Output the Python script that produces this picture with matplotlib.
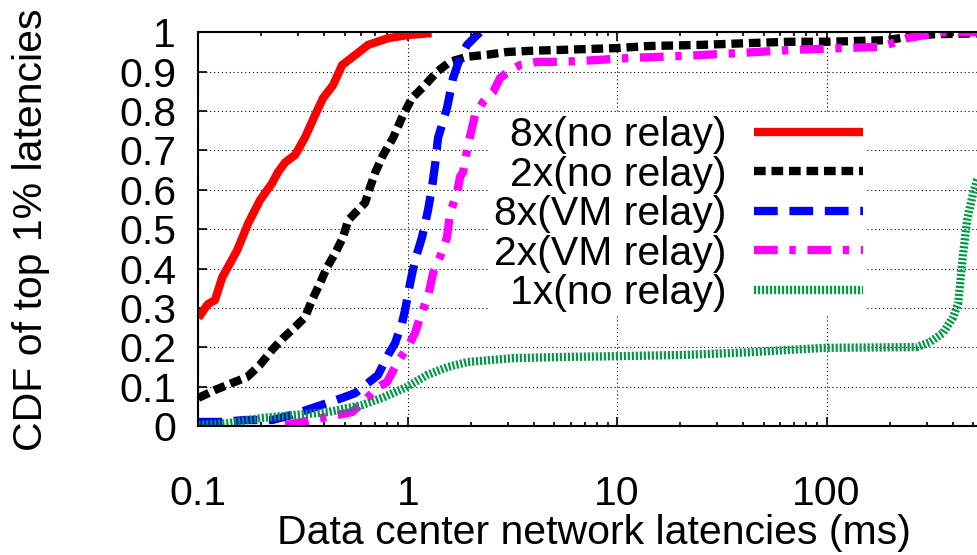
import matplotlib
matplotlib.use('Agg')
import matplotlib.pyplot as plt

plt.rcParams['font.family'] = ['Liberation Sans', 'DejaVu Sans']

labels = ['8x(no relay)', '2x(no relay)', '8x(VM relay)', '2x(VM relay)', '1x(no relay)']
colors = ['#ff0000', '#000000', '#0000ff', '#ff00ff', '#009944']

# latency (ms) / CDF
red_x = [0.1, 0.111, 0.12, 0.13, 0.153, 0.173, 0.197, 0.225, 0.24, 0.26, 0.29, 0.323,
         0.361, 0.394, 0.44, 0.486, 0.56, 0.646, 0.805, 1.0, 1.3]
red_y = [0.275, 0.31, 0.32, 0.378, 0.446, 0.515, 0.574, 0.617, 0.645, 0.67, 0.689, 0.733,
         0.79, 0.833, 0.866, 0.917, 0.942, 0.968, 0.985, 0.993, 0.998]

black_x = [0.1, 0.12, 0.145, 0.171, 0.197, 0.225, 0.254, 0.29, 0.323, 0.349, 0.381, 0.412,
           0.45, 0.491, 0.519, 0.579, 0.625, 0.661, 0.698, 0.763, 0.851, 0.95, 1.048, 1.21,
           1.38, 1.59, 1.92, 2.39, 2.98, 3.84, 5.16, 10, 13.9, 24.9, 44.6, 66.9, 100, 194,
           242, 323, 600]
black_y = [0.072, 0.092, 0.110, 0.125, 0.156, 0.194, 0.224, 0.252, 0.277, 0.32, 0.363, 0.404,
           0.439, 0.48, 0.523, 0.549, 0.567, 0.607, 0.643, 0.689, 0.732, 0.79, 0.833, 0.866,
           0.9, 0.925, 0.938, 0.943, 0.95, 0.953, 0.955, 0.96, 0.965, 0.968, 0.973, 0.976,
           0.976, 0.98, 0.988, 0.995, 0.998]

blue_x = [0.1, 0.13, 0.167, 0.225, 0.28, 0.349, 0.486, 0.56, 0.646, 0.721, 0.805, 0.87,
          0.939, 0.971, 1.026, 1.084, 1.17, 1.25, 1.306, 1.35, 1.395, 1.54, 1.646, 1.777,
          1.92, 2.14, 2.21]
blue_y = [0.011, 0.011, 0.016, 0.016, 0.029, 0.046, 0.072, 0.084, 0.110, 0.130, 0.181, 0.211,
          0.262, 0.295, 0.363, 0.422, 0.48, 0.549, 0.607, 0.663, 0.732, 0.808, 0.884, 0.935,
          0.968, 0.993, 1.0]

magenta_x = [0.26, 0.313, 0.39, 0.465, 0.542, 0.625, 0.721, 0.796, 0.899, 1.0, 1.084, 1.145,
             1.21, 1.26, 1.321, 1.426, 1.54, 1.592, 1.719, 1.777, 1.837, 1.94, 2.096, 2.288,
             2.555, 2.76, 3.013, 3.438, 4.145, 4.94, 6.65, 11.5, 20.6, 37.4, 66.9, 120, 180,
             208, 242, 323, 348, 600]
magenta_y = [0.003, 0.011, 0.021, 0.029, 0.036, 0.066, 0.1, 0.112, 0.165, 0.201, 0.237, 0.277,
             0.31, 0.338, 0.389, 0.43, 0.48, 0.541, 0.592, 0.633, 0.645, 0.714, 0.79, 0.823,
             0.848, 0.884, 0.9, 0.917, 0.925, 0.925, 0.927, 0.935, 0.94, 0.947, 0.955, 0.96,
             0.963, 0.973, 0.985, 0.997, 1.0, 1.0]

green_x = [0.1, 0.139, 0.2, 0.29, 0.416, 0.605, 0.754, 0.99, 1.237, 1.54, 1.92, 3.18, 5.5,
           10, 20.6, 43.1, 96.2, 270, 312, 360, 402, 425, 449, 469, 501, 523, 560]
green_y = [0.003, 0.008, 0.021, 0.029, 0.036, 0.054, 0.072, 0.1, 0.13, 0.15, 0.163, 0.173,
           0.176, 0.178, 0.181, 0.188, 0.199, 0.201, 0.214, 0.237, 0.277, 0.312, 0.439, 0.523,
           0.592, 0.625, 0.66]

series = [(red_x, red_y), (black_x, black_y), (blue_x, blue_y),
          (magenta_x, magenta_y), (green_x, green_y)]
dashes = [None, (1.4, 0.7), (2.85, 1.4), (2.85, 1.4, 0.76, 1.4), (0.26, 0.22)]

y_ticks = [0, 0.1, 0.2, 0.3, 0.4, 0.5, 0.6, 0.7, 0.8, 0.9, 1]
y_ticklabels = ['0', '0.1', '0.2', '0.3', '0.4', '0.5', '0.6', '0.7', '0.8', '0.9', '1']
x_ticks = [0.1, 1, 10, 100]
x_ticklabels = ['0.1', '1', '10', '100']

fs = 29.5
fig = plt.figure(figsize=(9.78, 5.55), dpi=100)
ax = fig.add_axes([0.2028, 0.2319, 0.809, 0.7099])

for (xs, ys), c, d, lab in zip(series, colors, dashes, labels):
    if d is None:
        ax.plot(xs, ys, color=c, lw=6, label=lab, solid_capstyle='butt')
    else:
        ax.plot(xs, ys, color=c, lw=6, label=lab, dashes=d, dash_capstyle='butt')

ax.set_xscale('log')
ax.set_xlim(0.1, 600)
ax.set_ylim(0, 1)
ax.set_xticks(x_ticks)
ax.set_xticklabels(x_ticklabels)
ax.set_yticks(y_ticks)
ax.set_yticklabels(y_ticklabels)
ax.tick_params(which='both', direction='in', top=True, right=True, width=1.2,
               labelsize=fs, colors='black')
ax.tick_params(axis='x', which='major', length=6.5, pad=35)
ax.tick_params(axis='x', which='minor', length=3.2)
ax.tick_params(axis='y', which='major', length=6.5, pad=16)
for s in ax.spines.values():
    s.set_linewidth(1.5)
ax.grid(True, which='major', color='black', lw=0.8, linestyle=(0, (1, 2.5)))
ax.set_axisbelow(True)

ax.set_xlabel('Data center network latencies (ms)', fontsize=fs, labelpad=1)
ax.set_ylabel('CDF of top 1% latencies', fontsize=fs, labelpad=50)

leg = ax.legend(loc='upper left', bbox_to_anchor=(0.3687, 0.797), fontsize=fs,
                markerfirst=False, frameon=True, facecolor='white', edgecolor='none',
                framealpha=1, fancybox=False, handlelength=2.66, handletextpad=0.66,
                labelspacing=0.035, borderpad=0.1, borderaxespad=0)

fig.savefig('out.png', dpi=100)
